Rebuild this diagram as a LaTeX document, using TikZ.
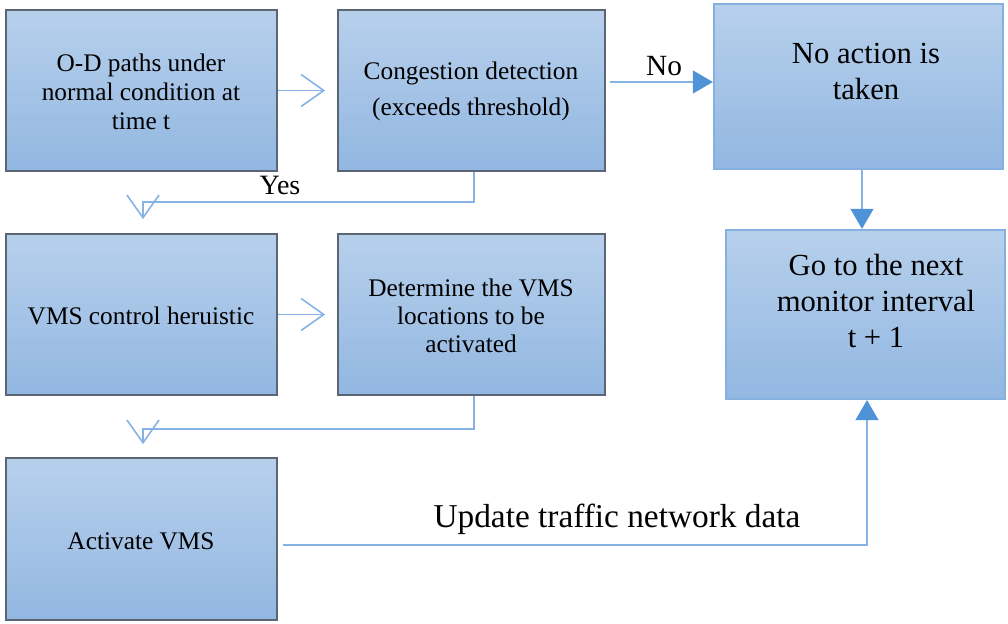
\documentclass[tikz,border=0pt]{standalone}
\usepackage{fontspec}
\setmainfont{Liberation Serif}
\usetikzlibrary{arrows.meta}

\definecolor{boxtop}{HTML}{B7D0EC}
\definecolor{boxbot}{HTML}{92B7E1}
\definecolor{edgedark}{HTML}{5B6573}
\definecolor{edgeblue}{HTML}{86B0E0}
\definecolor{flowline}{HTML}{84B3E4}
\definecolor{headfill}{HTML}{4E92D8}

\tikzset{
  stepbox/.style={rectangle, top color=boxtop, bottom color=boxbot,
    draw=edgedark, line width=1.3pt, inner sep=0pt},
  endbox/.style={rectangle, top color=boxtop, bottom color=boxbot,
    draw=edgeblue, line width=1.6pt, inner sep=0pt},
  boxtext/.style={align=center, text=black, inner sep=0pt,
    font=\fontsize{19}{22}\selectfont},
  bigtext/.style={align=center, text=black, inner sep=0pt,
    font=\fontsize{23}{27}\selectfont},
  openflow/.style={draw=flowline, line width=1.2pt,
    -{Straight Barb[length=17pt, width=24pt, line width=1.2pt]}},
  solidflow/.style={draw=flowline, line width=1.5pt,
    -{Triangle[length=15pt, width=17pt, fill=headfill, color=headfill]}},
  flowlabel/.style={text=black, inner sep=0pt}
}

\begin{document}
\begin{tikzpicture}[x=0.75pt, y=-0.75pt]
  \useasboundingbox (0,0) rectangle (1008,624);

  % process boxes
  \node[stepbox, minimum width=203.25pt, minimum height=120.75pt] (b1) at (141.5,90.5) {};
  \node[stepbox, minimum width=200.25pt, minimum height=120.75pt] (b2) at (471.5,90.5) {};
  \node[endbox,  minimum width=216.75pt, minimum height=123.75pt] (b3) at (858.5,86.5) {};
  \node[endbox,  minimum width=209.25pt, minimum height=126.75pt] (b4) at (865.5,314.5) {};
  \node[stepbox, minimum width=203.25pt, minimum height=120.75pt] (b5) at (141.5,314.5) {};
  \node[stepbox, minimum width=200.25pt, minimum height=120.75pt] (b6) at (471.5,314.5) {};
  \node[stepbox, minimum width=203.25pt, minimum height=121.5pt] (b7) at (141.5,539) {};

  % box captions
  \node[boxtext] (t1) at (141,92) {O-D paths under\\normal condition at\\time t};
  \node[boxtext, font=\fontsize{19}{27}\selectfont] (t2) at (471,91) {Congestion detection\\(exceeds threshold)};
  \node[bigtext] (t3) at (866,71) {No action is\\taken};
  \node[bigtext] (t4) at (876,301) {Go to the next\\monitor interval\\t + 1};
  \node[boxtext] (t5) at (141,316) {VMS control heruistic};
  \node[boxtext, font=\fontsize{19}{21}\selectfont] (t6) at (471,316) {Determine the VMS\\locations to be\\activated};
  \node[boxtext] (t7) at (141,541) {Activate VMS};

  % routing points
  \coordinate (nolevel) at (0,82);
  \coordinate (yesA) at (474,202);
  \coordinate (yesB) at (143,202);
  \coordinate (detA) at (474,429);
  \coordinate (detB) at (143,429);
  \coordinate (downx) at (862,0);
  \coordinate (updA) at (867,545);
  \coordinate (updS) at (283,545);

  % connectors
  \draw[openflow, shorten >=9pt] (b1.east) -- (b2.west);
  \draw[openflow, shorten >=9pt] (b5.east) -- (b6.west);
  \draw[openflow, shorten >=10.5pt] (b2.south -| yesA) -- (yesA) -- (yesB) -- (b5.north -| yesB);
  \draw[openflow, shorten >=9.75pt] (b6.south -| detA) -- (detA) -- (detB) -- (b7.north -| detB);
  \draw[solidflow] ([xshift=3pt]b2.east |- nolevel) -- (b3.west |- nolevel);
  \draw[solidflow] (b3.south -| downx) -- (b4.north -| downx);
  \draw[solidflow] (updS) -- (updA) -- (b4.south -| updA);

  % connector labels
  \node[flowlabel, font=\fontsize{22}{24}\selectfont] (nolab) at (664,66) {No};
  \node[flowlabel, font=\fontsize{21}{24}\selectfont] (yeslab) at (280,185) {Yes};
  \node[flowlabel, font=\fontsize{25}{28}\selectfont] (updlab) at (617,519) {Update traffic network data};
\end{tikzpicture}
\end{document}
